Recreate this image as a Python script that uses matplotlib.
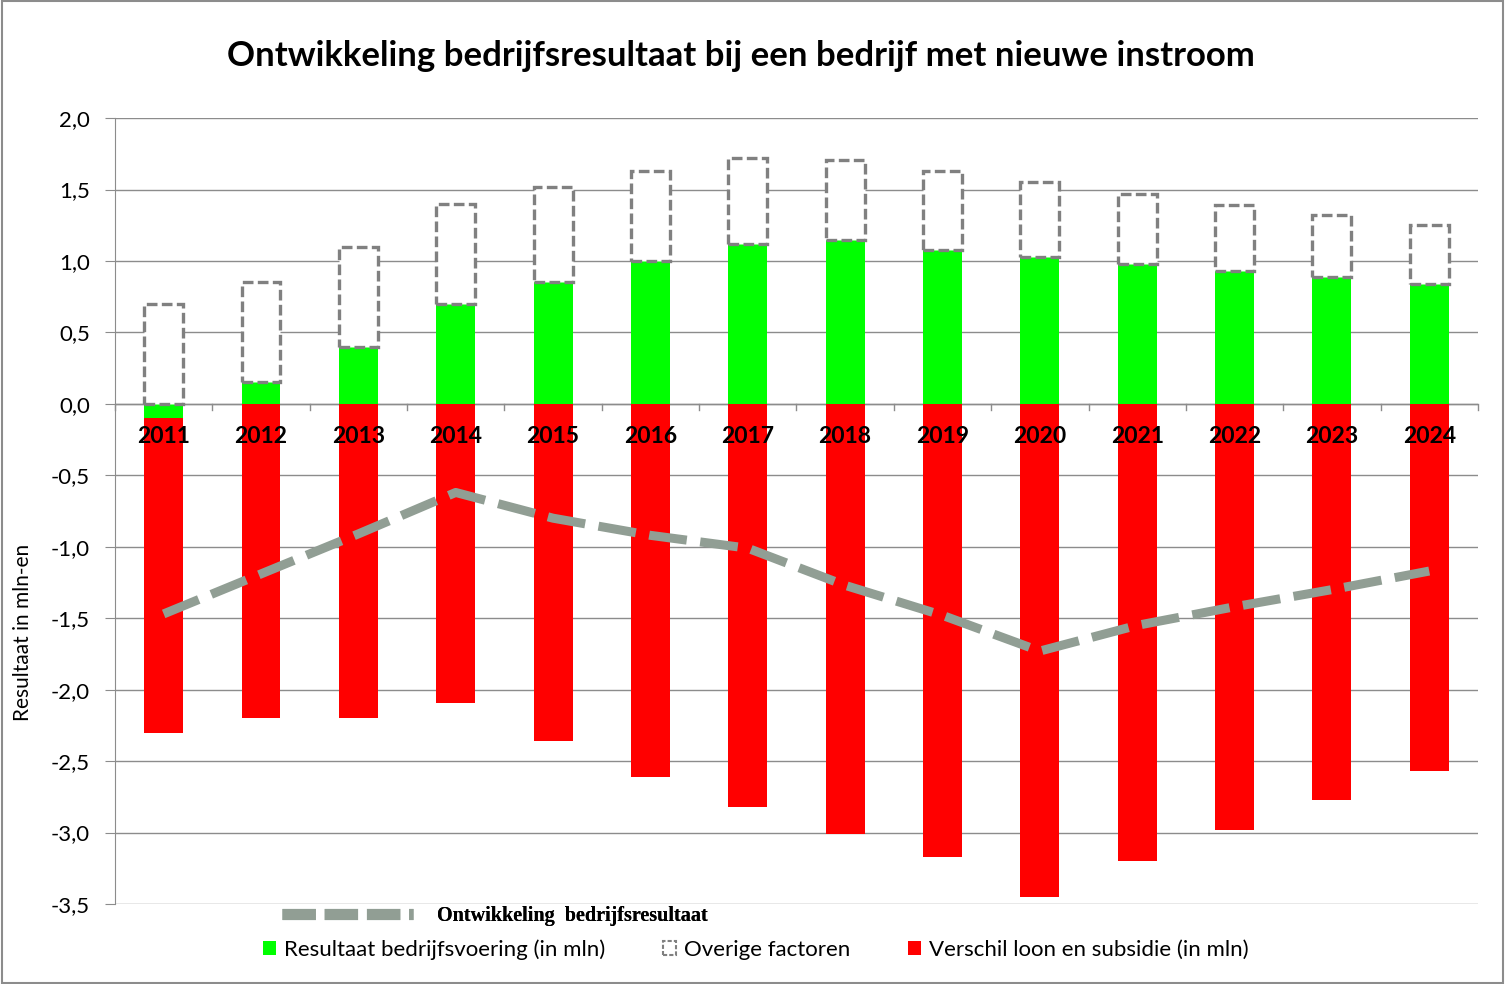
import numpy as np
import matplotlib
matplotlib.use("Agg")
import matplotlib.pyplot as plt
from matplotlib.patches import Patch, Rectangle
from matplotlib.lines import Line2D

plt.rcParams["font.family"] = ["Lato", "DejaVu Sans"]

years = ["2011", "2012", "2013", "2014", "2015", "2016", "2017",
         "2018", "2019", "2020", "2021", "2022", "2023", "2024"]
# Resultaat bedrijfsvoering (in mln)
bedrijfsvoering = [-0.10, 0.15, 0.40, 0.70, 0.85, 1.00, 1.12,
                   1.15, 1.08, 1.03, 0.98, 0.93, 0.89, 0.84]
# Overige factoren
overige = [0.70, 0.70, 0.70, 0.70, 0.67, 0.63, 0.60,
           0.56, 0.55, 0.52, 0.49, 0.46, 0.43, 0.41]
# Verschil loon en subsidie (in mln)
verschil = [-2.20, -2.20, -2.20, -2.09, -2.36, -2.61, -2.82,
            -3.01, -3.17, -3.45, -3.20, -2.98, -2.77, -2.57]
# Ontwikkeling bedrijfsresultaat
resultaat = [-1.47, -1.19, -0.91, -0.62, -0.80, -0.92, -1.01,
             -1.27, -1.48, -1.73, -1.55, -1.42, -1.30, -1.17]

GREEN = "#00FF00"
RED = "#FF0000"
GREY = "#808080"
LINE = "#919E94"

fig = plt.figure(figsize=(15.05, 9.84), dpi=100)
ax = fig.add_axes([0.0764, 0.0813, 0.9056, 0.7987])

x = np.arange(len(years))
w = 0.4
green = np.array(bedrijfsvoering)
pos_base = np.clip(green, 0, None)
neg_base = np.clip(green, None, 0)

ax.bar(x, green, w, color=GREEN, zorder=3)
ax.bar(x, verschil, w, bottom=neg_base, color=RED, zorder=3)
ax.bar(x, overige, w, bottom=pos_base, facecolor="white", edgecolor=GREY,
       linestyle=(0, (3.2, 1.3)), linewidth=2.4, zorder=3)
ax.plot(x, resultaat, color=LINE, lw=6.5, dashes=(4.2, 1.5), zorder=4,
        dash_capstyle="butt")

ax.set_xlim(-0.5, len(years) - 0.5)
ax.set_ylim(-3.5, 2.0)
ticks = np.arange(-3.5, 2.01, 0.5)
ax.set_yticks(ticks)
ax.set_yticklabels([f"{v:.1f}".replace(".", ",") for v in ticks], fontsize=16)
ax.yaxis.grid(True, color="#8C8C8C", lw=1, zorder=0)
ax.set_axisbelow(True)
ax.tick_params(axis="y", length=7, color="#8C8C8C", pad=11)

# category axis through zero
ax.set_xticks([])
ax.axhline(0, color="#8C8C8C", lw=1, zorder=2)
for b in np.arange(-0.5, len(years), 1.0):
    ax.plot([b, b], [0, -0.04], color="#8C8C8C", lw=1, zorder=2, clip_on=False)
for xi, yr in zip(x, years):
    ax.text(xi, -0.225, yr, ha="center", va="center", fontsize=16.5,
            fontweight="bold", zorder=5)

for s in ["top", "right", "bottom"]:
    ax.spines[s].set_visible(False)
ax.spines["left"].set_color("#8C8C8C")

fig.text(0.0150, 0.357, "Resultaat in mln-en", rotation=90, ha="center",
         va="center", fontsize=15)

fig.text(0.492, 0.943, "Ontwikkeling bedrijfsresultaat bij een bedrijf met nieuwe instroom",
         ha="center", va="center", fontsize=25, fontweight="bold")

h_line = Line2D([], [], color=LINE, lw=8, dashes=(3.0, 0.8))
leg1 = fig.legend([h_line], ["Ontwikkeling  bedrijfsresultaat"], loc="center",
                  bbox_to_anchor=(0.329, 0.069), frameon=False, handlelength=6.5,
                  handletextpad=1.2,
                  prop={"family": "Liberation Serif", "weight": "bold", "size": 14.5})
fig.add_artist(leg1)
h_green = Patch(facecolor=GREEN)
h_ov = Patch(facecolor="white", edgecolor=GREY, linestyle=(0, (2, 1)), linewidth=1.5)
h_red = Patch(facecolor=RED)
fig.legend([h_green, h_ov, h_red],
           ["Resultaat bedrijfsvoering (in mln)", "Overige factoren",
            "Verschil loon en subsidie (in mln)"],
           loc="center", bbox_to_anchor=(0.502, 0.035), ncol=3, frameon=False,
           fontsize=16, handlelength=0.6, handleheight=0.6, handletextpad=0.35,
           columnspacing=2.6)

fig.add_artist(Rectangle((0.001, 0.001), 0.998, 0.998, transform=fig.transFigure,
                         fill=False, edgecolor="#8C8C8C", lw=1.5))

fig.savefig("out.png", dpi=100)
